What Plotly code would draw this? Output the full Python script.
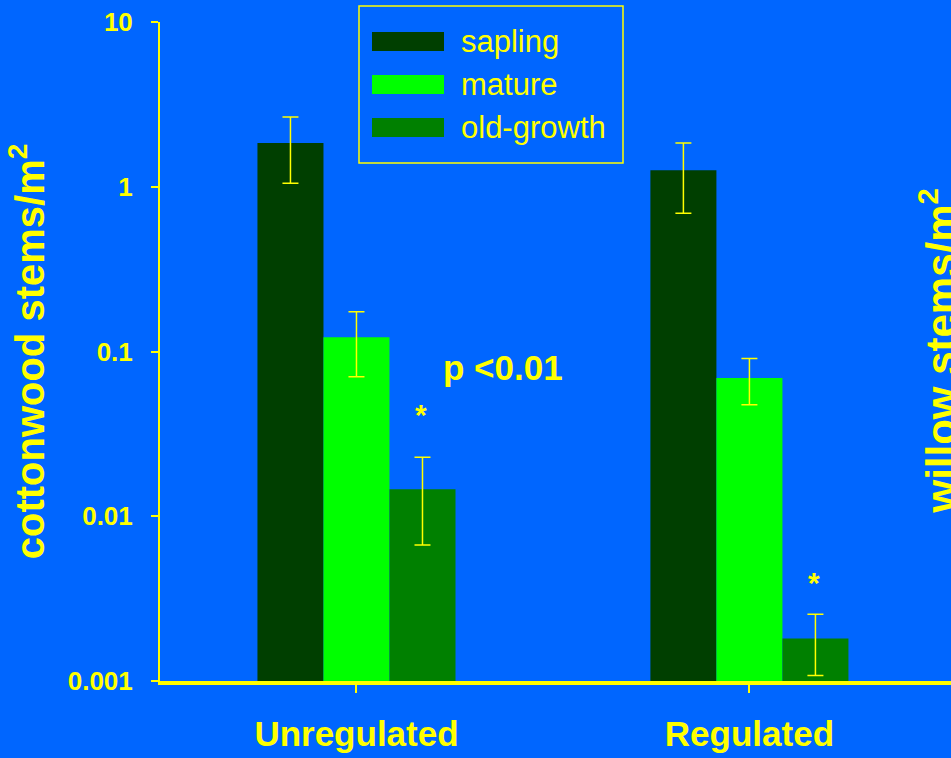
import plotly.graph_objects as go

# ---------------- data ----------------
categories = ["Unregulated", "Regulated"]
series_names = ["sapling", "mature", "old-growth"]
series_colors = ["#003F00", "#00FF00", "#008000"]

sapling = [1.84, 1.26]
sapling_hi = [2.65, 1.84]
sapling_lo = [1.05, 0.69]

mature = [0.122, 0.069]
mature_hi = [0.174, 0.0906]
mature_lo = [0.0703, 0.0475]

old_growth = [0.0146, 0.00181]
old_growth_hi = [0.0228, 0.00254]
old_growth_lo = [0.0067, 0.00108]

y_tickvals = [0.001, 0.01, 0.1, 1, 10]
y_ticktext = ["0.001", "0.01", "0.1", "1", "10"]

y_title = "cottonwood stems/m<sup>2</sup>"
right_title = "willow stems/m<sup>2</sup>"
p_text = "p <0.01"
star_text = "*"
# old-growth bars that carry a significance star (category index, log10 y of star)
star_positions = [(0, -1.38), (1, -2.40)]

BG = "#0066FF"
YEL = "#FFFF00"
FONT = "Liberation Sans, Arial, sans-serif"

values = [sapling, mature, old_growth]
his = [sapling_hi, mature_hi, old_growth_hi]
los = [sapling_lo, mature_lo, old_growth_lo]

fig = go.Figure()
for name, color, v, hi, lo in zip(series_names, series_colors, values, his, los):
    fig.add_trace(go.Bar(
        x=categories, y=v, name=name,
        marker=dict(color=color, line=dict(width=0)),
        error_y=dict(type="data", symmetric=False,
                     array=[h - a for h, a in zip(hi, v)],
                     arrayminus=[a - l for a, l in zip(v, lo)],
                     color=YEL, thickness=1.5, width=8),
        showlegend=False,
    ))

# plot geometry (paper coords helper)
L, R, T, B = 160, 0, 22, 77
W, H = 951, 758
PW, PH = W - L - R, H - T - B

def px(x):
    return (x - L) / PW

def py(y):
    return (H - B - y) / PH

shapes = []
annotations = []

# custom legend box
shapes.append(dict(type="rect", xref="paper", yref="paper",
                   x0=px(359), x1=px(623), y0=py(163), y1=py(6),
                   line=dict(color=YEL, width=1.5), fillcolor=BG, layer="above"))
sw_top = [32, 75, 118]
for name, color, t in zip(series_names, series_colors, sw_top):
    shapes.append(dict(type="rect", xref="paper", yref="paper",
                       x0=px(372), x1=px(444), y0=py(t + 19), y1=py(t),
                       line=dict(width=0), fillcolor=color, layer="above"))
    annotations.append(dict(text=name, xref="paper", yref="paper",
                            x=px(459), y=py(t + 9.5), xanchor="left", yanchor="middle",
                            showarrow=False, font=dict(family=FONT, size=31, color=YEL)))

# p-value
annotations.append(dict(text="<b>" + p_text + "</b>", xref="paper", yref="paper",
                        x=px(503), y=py(367), xanchor="center", yanchor="middle",
                        showarrow=False, font=dict(family=FONT, size=35, color=YEL)))

# stars above old-growth bars
for ci, ly in star_positions:
    annotations.append(dict(text="<b>" + star_text + "</b>", xref="x", yref="y",
                            x=ci + 0.165, y=ly, xanchor="center", yanchor="middle",
                            showarrow=False, font=dict(family=FONT, size=30, color=YEL)))

# right-hand (willow) axis title, cut at the edge
annotations.append(dict(text="<b>" + right_title + "</b>", xref="paper", yref="paper",
                        x=px(938), y=0.5, xanchor="center", yanchor="middle",
                        textangle=-90, showarrow=False,
                        font=dict(family=FONT, size=42, color=YEL)))

fig.update_layout(
    width=W, height=H,
    margin=dict(l=L, r=R, t=T, b=B, pad=0),
    paper_bgcolor=BG, plot_bgcolor=BG,
    barmode="group", bargap=0.496, bargroupgap=0,
    showlegend=False,
    shapes=shapes, annotations=annotations,
    xaxis=dict(type="category", range=[-0.5, 1.513],
               showline=True, linecolor=YEL, linewidth=4,
               ticks="outside", ticklen=8, tickwidth=1.5, tickcolor=YEL,
               showgrid=False, zeroline=False,
               tickfont=dict(family=FONT, size=35, color=YEL),
               ticklabelstandoff=11, automargin=False,
               tickprefix="<b>", ticksuffix="</b>"),
    yaxis=dict(type="log", range=[-3, 1],
               tickvals=y_tickvals, ticktext=["<b>" + t + "</b>" for t in y_ticktext],
               showline=True, linecolor=YEL, linewidth=2,
               ticks="outside", ticklen=7, tickwidth=1.5, tickcolor=YEL,
               showgrid=False, zeroline=False,
               tickfont=dict(family=FONT, size=26, color=YEL),
               ticklabelstandoff=13, automargin=False,
               title=dict(text="<b>" + y_title + "</b>", standoff=11,
                          font=dict(family=FONT, size=40, color=YEL))),
)

fig.write_html("out.html",
               config={"displayModeBar": False},
               post_script="document.body.style.margin='0';document.body.style.background='" + BG + "';")
